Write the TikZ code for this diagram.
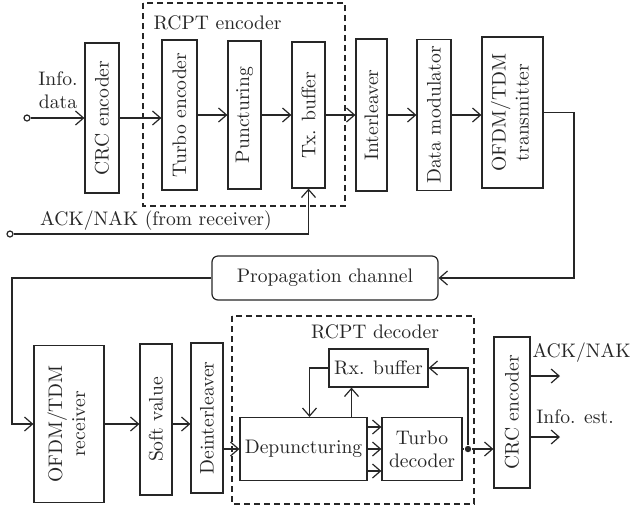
\documentclass[tikz,border=0pt]{standalone}
\usepackage{graphicx}
\usetikzlibrary{arrows.meta}

\begin{document}
\begin{tikzpicture}[x=0.5pt, y=-0.5pt, line width=0.6pt, color=black!85,
  font=\fontsize{9.8}{11.5}\selectfont]
\tikzset{blk/.style={draw, inner sep=0pt, align=center},
  port/.style={draw, circle, fill=white, inner sep=0pt, minimum size=3pt},
  conn/.style={-{Straight Barb[length=4pt,width=7pt]}},
  group/.style={draw, dash pattern=on 3pt off 2pt}}
\useasboundingbox (0,0) rectangle (631,510);

% transmitter
\draw[group] (143,3) rectangle (345,206);
\node (enclbl) at (217.5,23) {RCPT encoder};
\node[blk, minimum width=17pt, minimum height=75pt] (crcenc) at (102,118) {\rotatebox{90}{CRC encoder}};
\node[blk, minimum width=17.5pt, minimum height=75pt] (turboenc) at (179.5,115) {\rotatebox{90}{Turbo encoder}};
\node[blk, minimum width=16.5pt, minimum height=74pt] (punct) at (244.5,115) {\rotatebox{90}{Puncturing}};
\node[blk, minimum width=16.5pt, minimum height=73pt] (txbuf) at (308.5,115) {\rotatebox{90}{Tx. buffer}};
\node[blk, minimum width=15.5pt, minimum height=76pt] (inter) at (371.5,115) {\rotatebox{90}{Interleaver}};
\node[blk, minimum width=17pt, minimum height=75.5pt] (datamod) at (434,115) {\rotatebox{90}{Data modulator}};
\node[blk, minimum width=30.5pt, minimum height=75.5pt] (ofdmtx) at (512.5,112.5)
  {\rotatebox{90}{\begin{tabular}{@{}c@{}}OFDM/TDM\\transmitter\end{tabular}}};

\node[port] (infoin) at (27,118) {};
\node[align=center] (infolbl) at (58,90) {Info.\\data};
\draw[conn] (infoin) -- (infoin -| crcenc.west);
\draw[conn] (crcenc.east) -- (crcenc.east -| turboenc.west);
\draw[conn] (turboenc.east) -- (punct.west);
\draw[conn] (punct.east) -- (txbuf.west);
\draw[conn] (txbuf.east) -- (inter.west);
\draw[conn] (inter.east) -- (datamod.west);
\draw[conn] (datamod.east) -- (datamod.east -| ofdmtx.west);

\node[port] (ackin) at (10,234) {};
\node (acklbl) at (156,221) {ACK/NAK (from receiver)};
\draw[conn] (ackin) -| (txbuf.south);

% channel
\node[blk, rounded corners=3pt, minimum width=113pt, minimum height=22pt] (prop) at (325,278) {Propagation channel};
\coordinate (txturn) at (574,278);
\coordinate (rxturn) at (12,424);
\draw[conn] (ofdmtx.east) -| (txturn) -- (prop.east);

% receiver
\node[blk, minimum width=35pt, minimum height=78.5pt] (ofdmrx) at (69,424)
  {\rotatebox{90}{\begin{tabular}{@{}c@{}}OFDM/TDM\\receiver\end{tabular}}};
\node[blk, minimum width=16pt, minimum height=75.5pt] (softval) at (156,419.5) {\rotatebox{90}{Soft value}};
\node[blk, minimum width=16pt, minimum height=75pt] (deint) at (207,418) {\rotatebox{90}{Deinterleaver}};
\draw[conn] (prop.west) -| (rxturn) -- (ofdmrx.west);
\draw[conn] (ofdmrx.east) -- (ofdmrx.east -| softval.west);
\draw[conn] (softval.east |- ofdmrx.east) -- (deint.west |- ofdmrx.east);

\draw[group] (232,316) rectangle (474,504);
\node (declbl) at (375,332) {RCPT decoder};
\node[blk, minimum width=49.5pt, minimum height=19pt] (rxbuf) at (378.5,368) {Rx. buffer};
\node[blk, minimum width=63.5pt, minimum height=31.5pt] (depunct) at (303.5,449) {Depuncturing};
\node[blk, minimum width=40pt, minimum height=31.5pt] (turbodec) at (422,449) {Turbo\\decoder};
\node[circle, fill, inner sep=0pt, minimum size=3.2pt] (tap) at (468,449) {};
\node[blk, minimum width=18pt, minimum height=75.5pt] (crcdec) at (512,412.5) {\rotatebox{90}{CRC encoder}};

\draw[conn] (deint.east |- depunct.west) -- (depunct.west);
\foreach \dy in {11pt,0pt,-11pt}
  \draw[conn] ([yshift=\dy]depunct.east) -- ([yshift=\dy]turbodec.west);
\draw[conn] (rxbuf.west) -| ([xshift=3pt]depunct.north);
\draw[conn] ([xshift=24pt]depunct.north) -- ([xshift=24pt]depunct.north |- rxbuf.south);
\draw (turbodec.east) -- (tap);
\draw[conn] (tap) |- (rxbuf.east);
\draw[conn] (tap) -- (tap -| crcdec.west);

\coordinate (ackout) at (560,376);
\coordinate (estout) at (560,437);
\node (ackoutlbl) at (581.5,353) {ACK/NAK};
\node (estlbl) at (575,417) {Info. est.};
\draw[conn] (crcdec.east |- ackout) -- (ackout);
\draw[conn] (crcdec.east |- estout) -- (estout);
\end{tikzpicture}
\end{document}
